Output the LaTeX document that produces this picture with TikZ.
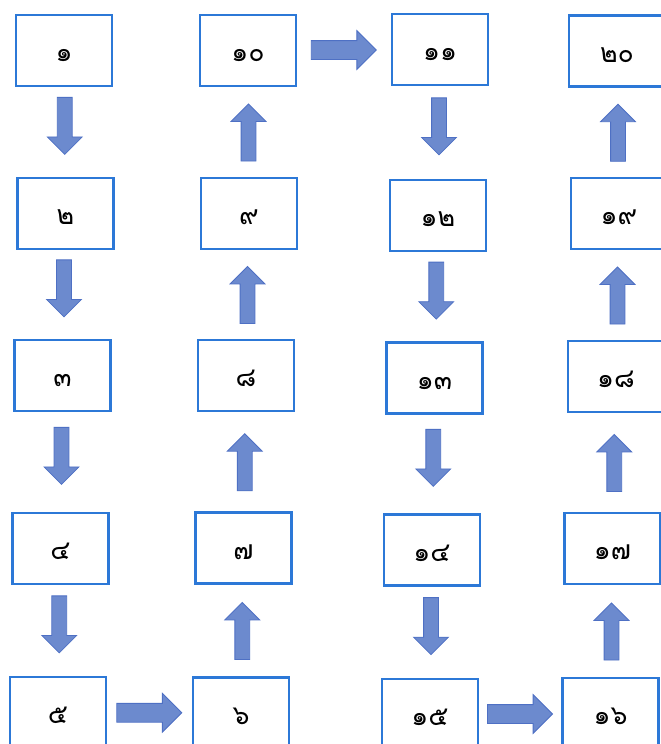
\documentclass[tikz,border=0pt]{standalone}
\usepackage{fontspec}
\newfontfamily\thaifont[Script=Thai]{Loma}
\usetikzlibrary{shapes.arrows,calc}

\definecolor{boxblue}{RGB}{44,120,215}
\definecolor{arrowfill}{RGB}{108,138,206}
\definecolor{arrowedge}{RGB}{78,112,196}

\tikzset{
  numbox/.style={draw=boxblue, line width=1.5pt, fill=white,
    minimum width=2.4cm, minimum height=1.775cm, inner sep=0pt,
    text height=0.55cm, text depth=0pt,
    font=\thaifont\fontsize{19}{21}\selectfont},
  blockarr/.style={single arrow, draw=arrowedge, fill=arrowfill,
    line width=0.6pt, single arrow head extend=0.25cm},
  downarr/.style={blockarr, shape border rotate=270, inner sep=0.175cm,
    minimum height=1.425cm, yshift=7pt},
  uparr/.style={blockarr, shape border rotate=90, inner sep=0.175cm,
    minimum height=1.425cm, yshift=-3pt},
  rightarr/.style={blockarr, shape border rotate=0, inner sep=0.225cm,
    minimum height=1.625cm, xshift=-3.5pt}
}

\begin{document}
\begin{tikzpicture}[x=0.025cm, y=-0.025cm]
  \clip (0,0) rectangle (661,744);
  \fill[white] (0,0) rectangle (661,744);

  % Define nodes for all boxes
  \node[numbox] (n1) at (64,50.5) {๑};
  \node[numbox] (n2) at (65.5,213.5) {๒};
  \node[numbox] (n3) at (62.5,375.5) {๓};
  \node[numbox] (n4) at (60.5,548.5) {๔};
  \node[numbox] (n5) at (58,712.5) {๕};
  \node[numbox] (n6) at (241,713) {๖};
  \node[numbox] (n7) at (243.5,548) {๗};
  \node[numbox] (n8) at (246,375.5) {๘};
  \node[numbox] (n9) at (249,213.5) {๙};
  \node[numbox] (n10) at (248,50.5) {๑๐};
  \node[numbox] (n11) at (440,49.5) {๑๑};
  \node[numbox] (n12) at (438,215.5) {๑๒};
  \node[numbox] (n13) at (434.5,378) {๑๓};
  \node[numbox] (n14) at (432,550) {๑๔};
  \node[numbox] (n15) at (430,714.5) {๑๕};
  \node[numbox] (n16) at (610.5,713.5) {๑๖};
  \node[numbox] (n17) at (612.5,548.5) {๑๗};
  \node[numbox] (n18) at (616,376.5) {๑๘};
  \node[numbox] (n19) at (619,213.5) {๑๙};
  \node[numbox] (n20) at (617,51) {๒๐};

  % Draw arrows
  \node[downarr] (a1) at ($(n1.south)!0.5!(n2.north)$) {};
  \node[downarr] (a2) at ($(n2.south)!0.5!(n3.north)$) {};
  \node[downarr] (a3) at ($(n3.south)!0.5!(n4.north)$) {};
  \node[downarr] (a4) at ($(n4.south)!0.5!(n5.north)$) {};
  \node[rightarr] (a5) at ($(n5.east)!0.5!(n6.west)$) {};
  \node[uparr] (a6) at ($(n6.north)!0.5!(n7.south)$) {};
  \node[uparr] (a7) at ($(n7.north)!0.5!(n8.south)$) {};
  \node[uparr] (a8) at ($(n8.north)!0.5!(n9.south)$) {};
  \node[uparr] (a9) at ($(n9.north)!0.5!(n10.south)$) {};
  \node[rightarr] (a10) at ($(n10.east)!0.5!(n11.west)$) {};
  \node[downarr] (a11) at ($(n11.south)!0.5!(n12.north)$) {};
  \node[downarr] (a12) at ($(n12.south)!0.5!(n13.north)$) {};
  \node[downarr] (a13) at ($(n13.south)!0.5!(n14.north)$) {};
  \node[downarr] (a14) at ($(n14.south)!0.5!(n15.north)$) {};
  \node[rightarr] (a15) at ($(n15.east)!0.5!(n16.west)$) {};
  \node[uparr] (a16) at ($(n16.north)!0.5!(n17.south)$) {};
  \node[uparr] (a17) at ($(n17.north)!0.5!(n18.south)$) {};
  \node[uparr] (a18) at ($(n18.north)!0.5!(n19.south)$) {};
  \node[uparr] (a19) at ($(n19.north)!0.5!(n20.south)$) {};

\end{tikzpicture}
\end{document}
